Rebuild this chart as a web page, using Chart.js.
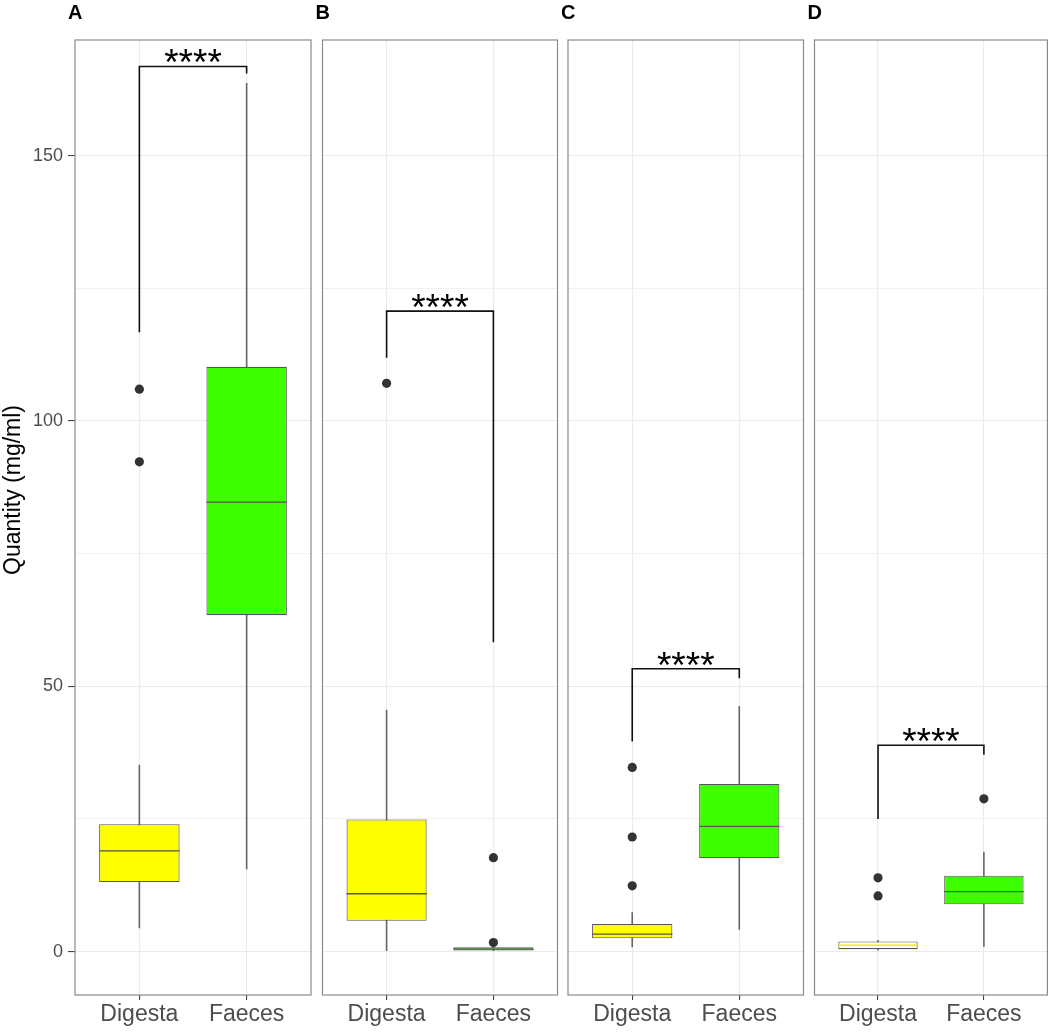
<!DOCTYPE html>
<html>
<head>
<meta charset="utf-8">
<script src="https://cdn.jsdelivr.net/npm/chart.js@4.4.1/dist/chart.umd.min.js"></script>
<style>
  html, body { margin: 0; padding: 0; background: #fff; }
  #wrap { position: relative; width: 1052px; height: 1032px; }
  #wrap canvas { position: absolute; left: 0; top: 0; }
</style>
</head>
<body>
<div id="wrap"></div>
<script>
// Values (mg/ml)
const categories = ['Digesta', 'Faeces'];
const panelNames = ['A', 'B', 'C', 'D'];
const yTicks = [0, 50, 100, 150];
const yMinorTicks = [25, 75, 125];

// one row per panel: [Digesta, Faeces]
const whiskerLow  = [[4.4, 15.5], [0.0, 0.0], [0.8, 4.1], [0.2, 0.9]];
const q1          = [[13.1, 63.4], [5.8, 0.2], [2.5, 17.6], [0.45, 8.9]];
const medians     = [[19.0, 84.7], [10.9, 0.45], [3.3, 23.6], [1.2, 11.3]];
const q3          = [[24.0, 110.2], [24.9, 0.8], [5.2, 31.6], [1.9, 14.3]];
const whiskerHigh = [[35.2, 163.7], [45.6, 1.0], [7.4, 46.3], [2.2, 18.8]];
const outliers    = [
    [[106.0, 92.3], []],
    [[107.1], [17.7, 1.7]],
    [[34.7, 21.6, 12.4], []],
    [[13.9, 10.5], [28.8]]
];

// significance brackets (value where the bar sits, where each leg ends)
const bracketTop      = [166.8, 120.7, 53.3, 38.9];
const bracketLeftEnd  = [116.7, 111.9, 39.6, 25.0];
const bracketRightEnd = [165.5, 58.3, 51.5, 37.1];
const bracketText     = ['****', '****', '****', '****'];

// layout / style
const W = 1052, H = 1032, TOP = 40, BOTTOM = 995;
const Y_MIN = -8.18, Y_MAX = 171.8;
const panelLeft  = [75, 322.5, 568, 814.5];
const panelRight = [311, 557.5, 803.5, 1049];
const FONT = '"Liberation Sans", Arial, Helvetica, sans-serif';
const YELLOW = '#ffff00';
const GREEN = '#3dff00';
const boxFills = [[YELLOW, GREEN], [YELLOW, GREEN], [YELLOW, GREEN], ['#fffff4', GREEN]];
const medianColors = [['#555', '#555'], ['#555', '#555'], ['#555', '#555'], ['#f2f200', '#555']];

const wrap = document.getElementById('wrap');

function makePanel(p) {
    const canvas = document.createElement('canvas');
    canvas.width = W;
    canvas.height = H;
    wrap.appendChild(canvas);

    // outlier points for this panel
    const outlierPoints = [];
    outliers[p].forEach((vals, i) => {
        vals.forEach(v => outlierPoints.push({ x: i + 1, y: v }));
    });

    const extras = {
        id: 'boxExtras' + p,
        afterDatasetsDraw(chart) {
            const ctx = chart.ctx;
            const ys = chart.scales.y;
            // median lines across each box
            chart.getDatasetMeta(1).data.forEach((bar, i) => {
                const { x, width } = bar.getProps(['x', 'width'], true);
                const y = ys.getPixelForValue(medians[p][i]);
                ctx.save();
                ctx.strokeStyle = medianColors[p][i];
                ctx.lineWidth = 1.3;
                ctx.beginPath();
                ctx.moveTo(x - width / 2, y);
                ctx.lineTo(x + width / 2, y);
                ctx.stroke();
                ctx.restore();
            });
        },
        afterDraw(chart) {
            const ctx = chart.ctx;
            const a = chart.chartArea;
            const xs = chart.scales.x;
            const ys = chart.scales.y;

            // panel border
            ctx.save();
            ctx.strokeStyle = '#8a8a8a';
            ctx.lineWidth = 1.2;
            ctx.strokeRect(a.left, a.top, a.right - a.left, a.bottom - a.top);

            // significance bracket
            const x1 = xs.getPixelForValue(1);
            const x2 = xs.getPixelForValue(2);
            const yT = ys.getPixelForValue(bracketTop[p]);
            ctx.strokeStyle = '#111';
            ctx.lineWidth = 1.6;
            ctx.beginPath();
            ctx.moveTo(x1, ys.getPixelForValue(bracketLeftEnd[p]));
            ctx.lineTo(x1, yT);
            ctx.lineTo(x2, yT);
            ctx.lineTo(x2, ys.getPixelForValue(bracketRightEnd[p]));
            ctx.stroke();
            ctx.fillStyle = '#000';
            ctx.font = '37px ' + FONT;
            ctx.textAlign = 'center';
            ctx.textBaseline = 'alphabetic';
            ctx.fillText(bracketText[p], (x1 + x2) / 2, yT + 8.8);

            // panel tag
            ctx.font = 'bold 20px ' + FONT;
            ctx.textAlign = 'left';
            ctx.fillText(panelNames[p], a.left - 7, 19);

            // y axis title only on the first panel
            if (p === 0) {
                ctx.translate(13.5, 490);
                ctx.rotate(-Math.PI / 2);
                ctx.font = '23px ' + FONT;
                ctx.textAlign = 'center';
                ctx.textBaseline = 'middle';
                ctx.fillText('Quantity (mg/ml)', 0, 0);
            }
            ctx.restore();
        }
    };

    new Chart(canvas, {
        type: 'bar',
        data: {
            datasets: [
                {
                    type: 'scatter',
                    label: 'outliers',
                    data: outlierPoints,
                    backgroundColor: '#333',
                    borderWidth: 0,
                    pointRadius: 4.6,
                    order: 0
                },
                {
                    label: 'box',
                    data: categories.map((c, i) => ({ x: i + 1, y: [q1[p][i], q3[p][i]] })),
                    backgroundColor: boxFills[p],
                    borderColor: '#555',
                    borderWidth: 1.1,
                    borderSkipped: false,
                    barPercentage: 0.75,
                    categoryPercentage: 1,
                    grouped: false,
                    order: 1
                },
                {
                    label: 'whisker',
                    data: categories.map((c, i) => ({ x: i + 1, y: [whiskerLow[p][i], whiskerHigh[p][i]] })),
                    backgroundColor: '#666',
                    borderWidth: 0,
                    barPercentage: 0.015,
                    categoryPercentage: 1,
                    grouped: false,
                    order: 2
                }
            ]
        },
        options: {
            responsive: false,
            animation: false,
            layout: { padding: { top: TOP, right: W - panelRight[p], left: 0, bottom: 0 } },
            plugins: { legend: { display: false }, tooltip: { enabled: false } },
            scales: {
                x: {
                    type: 'linear',
                    min: 0.4,
                    max: 2.6,
                    offset: false,
                    afterBuildTicks: s => { s.ticks = categories.map((c, i) => ({ value: i + 1 })); },
                    afterFit: s => { s.height = H - BOTTOM; },
                    ticks: {
                        callback: v => categories[v - 1],
                        font: { family: FONT, size: 23 },
                        color: '#4d4d4d',
                        padding: 1,
                        autoSkip: false,
                        maxRotation: 0
                    },
                    grid: { offset: false, color: '#ebebeb', lineWidth: 1.1, tickLength: 5, tickColor: '#444', tickWidth: 1.1 },
                    border: { display: false }
                },
                y: {
                    type: 'linear',
                    min: Y_MIN,
                    max: Y_MAX,
                    afterBuildTicks: s => {
                        s.ticks = yTicks.concat(yMinorTicks).sort((a, b) => a - b).map(v => ({ value: v }));
                    },
                    afterFit: s => { s.width = panelLeft[p]; },
                    ticks: {
                        display: p === 0,
                        callback: v => (yTicks.includes(v) ? String(v) : ''),
                        font: { family: FONT, size: 18 },
                        color: '#4d4d4d',
                        padding: 5
                    },
                    grid: {
                        color: '#ebebeb',
                        lineWidth: c => (yTicks.includes(c.tick.value) ? 1.1 : 0.7),
                        drawTicks: p === 0,
                        tickLength: 7,
                        tickWidth: 1.1,
                        tickColor: c => (yTicks.includes(c.tick.value) ? '#444' : 'rgba(0,0,0,0)')
                    },
                    border: { display: false }
                }
            }
        },
        plugins: [extras]
    });
}

panelNames.forEach((n, p) => makePanel(p));
</script>
</body>
</html>
